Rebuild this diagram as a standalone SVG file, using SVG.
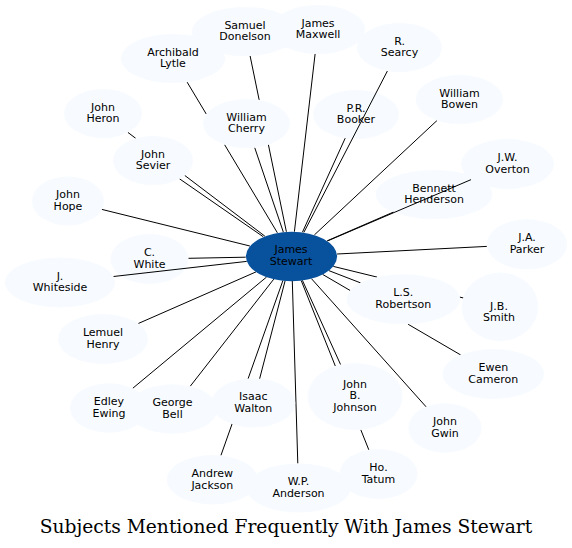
<svg xmlns="http://www.w3.org/2000/svg" width="572" height="548" viewBox="0 0 572 548">
<style>
.n ellipse{fill:#f7fbff;stroke:none}
.c ellipse{fill:#08519c;stroke:none}
text{font-family:"DejaVu Sans","Liberation Sans",sans-serif;font-size:11px;fill:#000;text-anchor:middle}
.t{font-family:"DejaVu Serif","Liberation Serif",serif;font-size:18.67px}
#edges path{fill:none;stroke:#000;stroke-width:1}
</style>
<rect width="572" height="548" fill="#fff"/>
<g id="node-bennett-henderson" class="n"><ellipse cx="434" cy="194.5" rx="58.3" ry="24.5"/><text x="434" y="191.5">Bennett</text><text x="434" y="203.3">Henderson</text></g>
<g id="node-pr-booker" class="n"><ellipse cx="356" cy="114.5" rx="43" ry="24.5"/><text x="356" y="111.5">P.R.</text><text x="356" y="123.3">Booker</text></g>
<g id="node-c-white" class="n"><ellipse cx="149.5" cy="259" rx="39" ry="25"/><text x="149.5" y="256">C.</text><text x="149.5" y="267.8">White</text></g>
<g id="edges">
<path d="M250.1,55.9 L259.2,100.1 M268.4,144.7 L286.4,231.8"/>
<path d="M315.1,54.0 L294.4,231.7"/>
<path d="M187.1,82.1 L206.3,114.1 M224.6,144.7 L277.4,232.8"/>
<path d="M387.4,71.0 L303.8,232.5"/>
<path d="M254.7,147.6 L283.3,232.0"/>
<path d="M345.2,138.2 L302.4,232.3"/>
<path d="M437.0,120.5 L314.4,234.9"/>
<path d="M127.9,132.4 L135.8,138.4 M184.7,175.4 L264.9,236.2"/>
<path d="M179.5,178.8 L263.3,236.8"/>
<path d="M471.1,179.6 L327.4,241.0"/>
<path d="M393.4,212.1 L327.2,240.8"/>
<path d="M101.8,209.4 L249.9,246.0"/>
<path d="M188.5,258.3 L245.7,257.2"/>
<path d="M113.4,276.5 L246.7,261.4"/>
<path d="M138.3,323.5 L256.0,271.9"/>
<path d="M486.8,246.4 L337.1,254.0"/>
<path d="M360.6,282.9 L328.8,270.6"/>
<path d="M333.3,266.4 L377.1,277.1 M459.8,297.1 L463.8,298.1"/>
<path d="M322.6,274.4 L350.2,290.5 M408.0,324.2 L460.6,354.9"/>
<path d="M132.6,388.4 L266.6,277.0"/>
<path d="M190.2,386.3 L273.8,279.1"/>
<path d="M259.6,378.8 L285.1,280.8"/>
<path d="M220.9,455.5 L232.8,421.9 M248.1,378.7 L282.9,280.6"/>
<path d="M297.8,463.5 L292.3,281.0"/>
<path d="M340.6,364.6 L302.4,280.3"/>
<path d="M426.1,406.8 L311.4,278.6"/>
<path d="M368.8,449.8 L360.8,429.8 M335.3,366.0 L301.2,280.5"/>
</g>
<g id="node-samuel-donelson" class="n"><ellipse cx="245" cy="31.5" rx="53" ry="24.5"/><text x="245" y="28.5">Samuel</text><text x="245" y="40.3">Donelson</text></g>
<g id="node-james-maxwell" class="n"><ellipse cx="318" cy="29.5" rx="47" ry="24.5"/><text x="318" y="26.5">James</text><text x="318" y="38.3">Maxwell</text></g>
<g id="node-archibald-lytle" class="n"><ellipse cx="173" cy="58.5" rx="52" ry="24.5"/><text x="173" y="55.5">Archibald</text><text x="173" y="67.3">Lytle</text></g>
<g id="node-r-searcy" class="n"><ellipse cx="399.5" cy="47.5" rx="42.5" ry="24.5"/><text x="399.5" y="44.5">R.</text><text x="399.5" y="56.3">Searcy</text></g>
<g id="node-william-cherry" class="n"><ellipse cx="246.5" cy="123.5" rx="43.5" ry="24.5"/><text x="246.5" y="120.5">William</text><text x="246.5" y="132.3">Cherry</text></g>
<g id="node-william-bowen" class="n"><ellipse cx="459.5" cy="99.5" rx="43.7" ry="24.5"/><text x="459.5" y="96.5">William</text><text x="459.5" y="108.3">Bowen</text></g>
<g id="node-john-heron" class="n"><ellipse cx="103" cy="113.5" rx="39" ry="24.5"/><text x="103" y="110.5">John</text><text x="103" y="122.3">Heron</text></g>
<g id="node-john-sevier" class="n"><ellipse cx="153" cy="160.5" rx="40" ry="24.5"/><text x="153" y="157.5">John</text><text x="153" y="169.3">Sevier</text></g>
<g id="node-jw-overton" class="n"><ellipse cx="507.5" cy="164" rx="46.5" ry="25"/><text x="507.5" y="161">J.W.</text><text x="507.5" y="172.8">Overton</text></g>
<g id="node-john-hope" class="n"><ellipse cx="68" cy="201" rx="36" ry="24.5"/><text x="68" y="198">John</text><text x="68" y="209.8">Hope</text></g>
<g id="node-j-whiteside" class="n"><ellipse cx="60" cy="282.5" rx="55" ry="25"/><text x="60" y="279.5">J.</text><text x="60" y="291.3">Whiteside</text></g>
<g id="node-lemuel-henry" class="n"><ellipse cx="103" cy="339" rx="45" ry="25"/><text x="103" y="336">Lemuel</text><text x="103" y="347.8">Henry</text></g>
<g id="node-ja-parker" class="n"><ellipse cx="527" cy="244.3" rx="40.3" ry="25"/><text x="527" y="241.3">J.A.</text><text x="527" y="253.1">Parker</text></g>
<g id="node-ls-robertson" class="n"><ellipse cx="403.3" cy="299.3" rx="56.7" ry="25"/><text x="403.3" y="296.3">L.S.</text><text x="403.3" y="308.1">Robertson</text></g>
<g id="node-jb-smith" class="n"><ellipse cx="500" cy="306.8" rx="38.3" ry="34.2"/><text x="499" y="309.6">J.B.</text><text x="499" y="321.4">Smith</text></g>
<g id="node-ewen-cameron" class="n"><ellipse cx="493.3" cy="374" rx="50.7" ry="25"/><text x="493.3" y="371">Ewen</text><text x="493.3" y="382.8">Cameron</text></g>
<g id="node-edley-ewing" class="n"><ellipse cx="109" cy="408" rx="39" ry="24.7"/><text x="109" y="405">Edley</text><text x="109" y="416.8">Ewing</text></g>
<g id="node-george-bell" class="n"><ellipse cx="172.5" cy="409" rx="45" ry="24.7"/><text x="172.5" y="406">George</text><text x="172.5" y="417.8">Bell</text></g>
<g id="node-isaac-walton" class="n"><ellipse cx="253.3" cy="403" rx="42" ry="24.5"/><text x="253.3" y="400">Isaac</text><text x="253.3" y="411.8">Walton</text></g>
<g id="node-andrew-jackson" class="n"><ellipse cx="212.3" cy="479.7" rx="45.5" ry="24.7"/><text x="212.3" y="476.7">Andrew</text><text x="212.3" y="488.5">Jackson</text></g>
<g id="node-wp-anderson" class="n"><ellipse cx="298.5" cy="488" rx="52" ry="24.5"/><text x="298.5" y="485">W.P.</text><text x="298.5" y="496.8">Anderson</text></g>
<g id="node-john-b-johnson" class="n"><ellipse cx="355" cy="396.5" rx="47.5" ry="33.5"/><text x="355" y="387.6">John</text><text x="355" y="399.4">B.</text><text x="355" y="411.2">Johnson</text></g>
<g id="node-john-gwin" class="n"><ellipse cx="445" cy="428" rx="36.7" ry="24.7"/><text x="445" y="425">John</text><text x="445" y="436.8">Gwin</text></g>
<g id="node-ho-tatum" class="n"><ellipse cx="378.5" cy="474" rx="39" ry="25"/><text x="378.5" y="471">Ho.</text><text x="378.5" y="482.8">Tatum</text></g>
<g id="node-james-stewart" class="c"><ellipse cx="291.5" cy="256.5" rx="45.6" ry="24.7"/><text x="291" y="253.3">James</text><text x="291" y="265.1">Stewart</text></g>
<text class="t" x="286" y="532.5">Subjects Mentioned Frequently With James Stewart</text>
</svg>
